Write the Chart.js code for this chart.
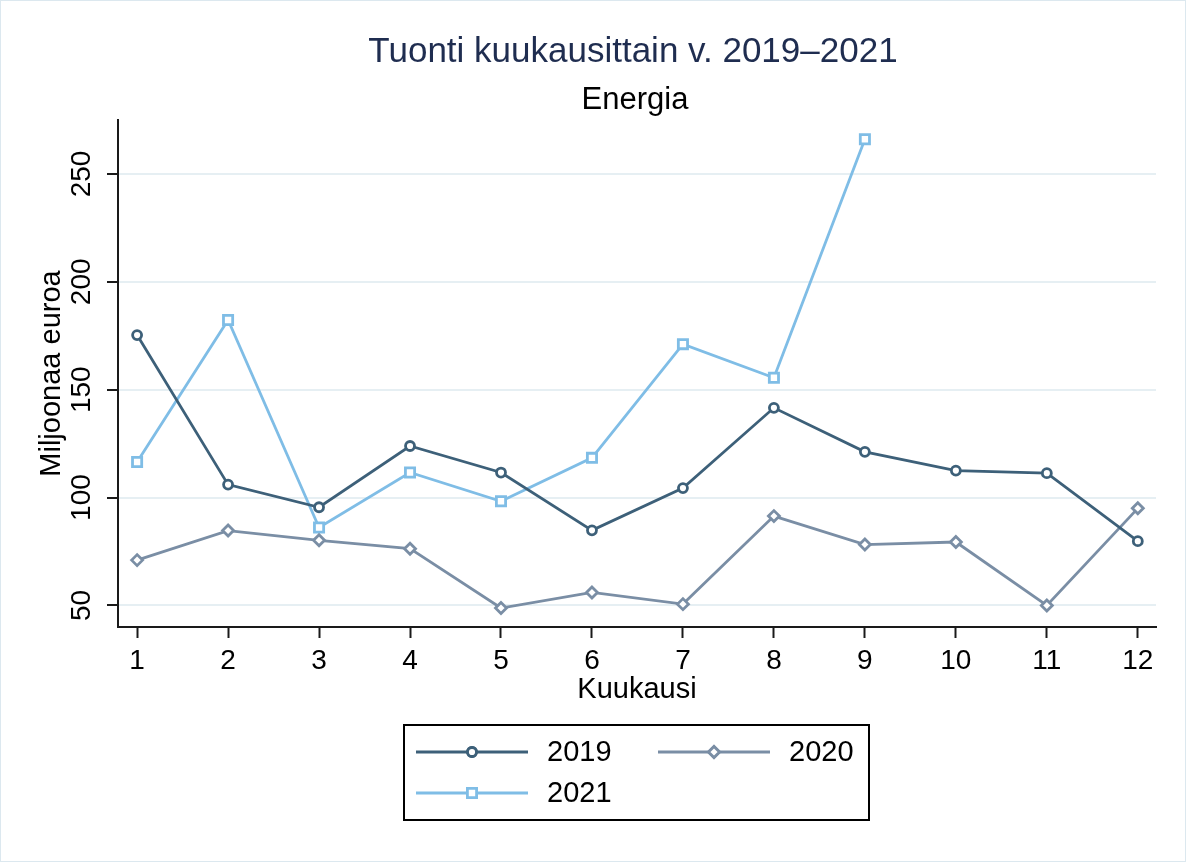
<!DOCTYPE html>
<html lang="fi">
<head>
    <meta charset="UTF-8">
    <title>Tuonti kuukausittain - Energia</title>
    <script src="https://cdn.jsdelivr.net/npm/chart.js"></script>
    <style>
        * { margin: 0; padding: 0; box-sizing: border-box; }
        body { background: #fff; }
        canvas { display: block; }
    </style>
</head>
<body>
    <canvas id="tuonti" width="1186" height="862"></canvas>

    <script>
        // Data (million euros per month)
        const months = [1, 2, 3, 4, 5, 6, 7, 8, 9, 10, 11, 12];
        const yTicks = [50, 100, 150, 200, 250];
        const years = ['2019', '2020', '2021'];
        const v2019 = [175.3, 106.0, 95.5, 123.9, 111.6, 84.8, 104.4, 141.6, 121.2, 112.5, 111.3, 79.8];
        const v2020 = [71.0, 84.7, 80.2, 76.3, 48.8, 56.0, 50.6, 91.4, 78.2, 79.4, 50.0, 95.0];
        const v2021 = [116.5, 182.3, 86.1, 111.6, 98.3, 118.4, 171.1, 155.5, 266.1];

        const FONT = '"Liberation Sans", Arial, sans-serif';
        const colors = ['#3d6079', '#7a8ea5', '#7fbde6'];
        const styles = ['circle', 'rectRot', 'rect'];
        const radii = [4.5, 5.5, 6.5];

        function toPoints(vals) {
            return vals.map((v, i) => ({ x: months[i], y: v }));
        }

        const datasets = [v2019, v2020, v2021].map((vals, i) => ({
            label: years[i],
            data: toPoints(vals),
            borderColor: colors[i],
            backgroundColor: '#fff',
            borderWidth: 2.8,
            pointStyle: styles[i],
            pointRadius: radii[i],
            pointBorderWidth: 2.8,
            pointBackgroundColor: '#fff',
            pointBorderColor: colors[i],
            tension: 0
        }));

        // Titles, rotated y tick labels, boxed legend and the thin frame
        const decorations = {
            id: 'decorations',
            beforeDraw(chart) {
                const ctx = chart.ctx;
                ctx.save();
                ctx.fillStyle = '#fff';
                ctx.fillRect(0, 0, chart.width, chart.height);
                ctx.strokeStyle = '#dce8ef';
                ctx.lineWidth = 1;
                ctx.strokeRect(0.5, 0.5, chart.width - 1, chart.height - 1);
                ctx.restore();
            },
            afterDraw(chart) {
                const ctx = chart.ctx;
                const area = chart.chartArea;
                const cx = (area.left + area.right) / 2;
                ctx.save();

                ctx.textAlign = 'center';
                ctx.textBaseline = 'middle';
                ctx.fillStyle = '#1f2d50';
                ctx.font = '35px ' + FONT;
                ctx.fillText('Tuonti kuukausittain v. 2019\u20132021', cx - 4, 52);
                ctx.fillStyle = '#000';
                ctx.font = '31px ' + FONT;
                ctx.fillText('Energia', cx - 2, 100);

                // y tick labels, reading upwards
                const ys = chart.scales.y;
                ctx.font = '28px ' + FONT;
                ctx.fillStyle = '#000';
                yTicks.forEach(v => {
                    const py = ys.getPixelForValue(v);
                    ctx.save();
                    ctx.translate(82, py);
                    ctx.rotate(-Math.PI / 2);
                    ctx.fillText(String(v), 0, 0);
                    ctx.restore();
                });

                // legend
                ctx.strokeStyle = '#000';
                ctx.lineWidth = 2;
                ctx.strokeRect(404, 725, 465, 95);
                const slots = [
                    { x: 416, y: 752 },
                    { x: 658, y: 752 },
                    { x: 416, y: 793 }
                ];
                chart.data.datasets.forEach((ds, i) => {
                    const s = slots[i];
                    ctx.strokeStyle = ds.borderColor;
                    ctx.lineWidth = 2.8;
                    ctx.beginPath();
                    ctx.moveTo(s.x, s.y);
                    ctx.lineTo(s.x + 112, s.y);
                    ctx.stroke();
                    ctx.fillStyle = '#fff';
                    Chart.helpers.drawPoint(ctx, {
                        pointStyle: ds.pointStyle,
                        radius: ds.pointRadius,
                        rotation: 0,
                        borderWidth: 2.8
                    }, s.x + 56, s.y);
                    ctx.fill();
                    ctx.stroke();
                    ctx.fillStyle = '#000';
                    ctx.textAlign = 'left';
                    ctx.font = '29px ' + FONT;
                    ctx.fillText(ds.label, s.x + 131, s.y + 1);
                });
                ctx.restore();
            }
        };

        new Chart(document.getElementById('tuonti').getContext('2d'), {
            type: 'line',
            data: { datasets: datasets },
            plugins: [decorations],
            options: {
                responsive: false,
                animation: false,
                devicePixelRatio: 1,
                layout: { padding: { left: 0, right: 30, top: 120, bottom: 155 } },
                plugins: {
                    legend: { display: false },
                    title: { display: false },
                    tooltip: { enabled: false }
                },
                scales: {
                    x: {
                        type: 'linear',
                        min: 0.79,
                        max: 12.2,
                        afterBuildTicks: s => { s.ticks = months.map(m => ({ value: m })); },
                        afterFit: s => { s.height = 80; },
                        grid: {
                            drawOnChartArea: false,
                            drawTicks: true,
                            tickLength: 11,
                            tickWidth: 2,
                            tickColor: '#1a1a1a'
                        },
                        border: { display: true, color: '#1a1a1a', width: 2 },
                        ticks: {
                            color: '#000',
                            padding: 6,
                            maxRotation: 0,
                            autoSkip: false,
                            font: { family: FONT, size: 28 }
                        },
                        title: {
                            display: true,
                            text: 'Kuukausi',
                            color: '#000',
                            padding: { top: 0, bottom: 0 },
                            font: { family: FONT, size: 29 }
                        }
                    },
                    y: {
                        min: 40,
                        max: 275,
                        afterBuildTicks: s => { s.ticks = yTicks.map(v => ({ value: v })); },
                        afterFit: s => { s.width = 118; },
                        grid: {
                            color: '#e6eff3',
                            lineWidth: 2,
                            drawTicks: true,
                            tickLength: 11,
                            tickWidth: 2,
                            tickColor: '#1a1a1a'
                        },
                        border: { display: true, color: '#1a1a1a', width: 2 },
                        ticks: { display: false },
                        title: {
                            display: true,
                            text: 'Miljoonaa euroa',
                            color: '#000',
                            padding: { top: 35, bottom: 0 },
                            font: { family: FONT, size: 29 }
                        }
                    }
                }
            }
        });
    </script>
</body>
</html>
